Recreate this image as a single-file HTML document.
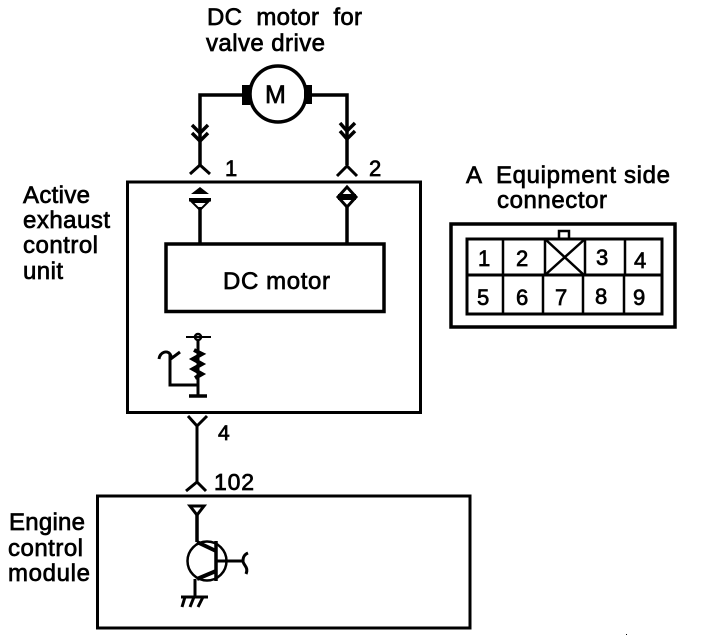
<!DOCTYPE html>
<html><head><meta charset="utf-8">
<style>
html,body{margin:0;padding:0;background:#fff}
svg{display:block}
text{font-family:"Liberation Sans",sans-serif;fill:#000;stroke:#000;stroke-width:.7}
</style></head>
<body>
<svg width="704" height="642" viewBox="0 0 704 642" xmlns="http://www.w3.org/2000/svg">
<g fill="none" stroke="#000" stroke-width="3">
<!-- boxes -->
<rect x="127.500" y="182" width="293" height="230.500"/>
<rect x="166" y="244" width="218" height="67.500" stroke-width="3.500"/>
<rect x="97.500" y="496" width="372.500" height="132" stroke-width="3"/>
<!-- motor -->
<circle cx="278" cy="94" r="28" stroke-width="3.500"/>
<path d="M200 165V95H243M312 95H347V165" stroke-width="3.500"/>
<rect x="242" y="85" width="8" height="20" fill="#000" stroke="none"/>
<rect x="304" y="85" width="8" height="19" fill="#000" stroke="none"/>
<!-- arrows on motor wires -->
<path d="M192 125L200 133L208 125M192 133L200 141L208 133M340 123L347 131L355 123M340 131L347 139L355 131" stroke-width="3.500"/>
<!-- connector Y 1 and 2 -->
<path d="M190 174L200 165L210 174M337 176L347 166L357 176" stroke-width="3"/>
<!-- terminal 1 -->
<path d="M200 207V243M347 207V243" stroke-width="3.500"/>
<path d="M200 187L209 194H191Z" fill="#000" stroke="none"/>
<rect x="189" y="198" width="22" height="3.500" fill="#000" stroke="none"/>
<path d="M192 202H208L200 210Z" stroke-width="2"/>
<path d="M347 187L356 197L347 207L338 197Z" stroke-width="3"/>
<rect x="338" y="194" width="18" height="6" fill="#000" stroke="none"/>
<!-- sensor / pull-up symbol -->
<path d="M186 337H211" stroke-width="2"/>
<circle cx="198" cy="337" r="3" stroke-width="2.500"/>
<path d="M198 340V396" stroke-width="3"/>
<path d="M194 350L202 354L193 359L202 364L193 369L202 374L195 378" stroke-width="4"/>
<path d="M189 396H207" stroke-width="3.500"/>
<path d="M198 385H170V354" stroke-width="3"/>
<path d="M159 359C160 352 167 350 170 354L172 358L180 352" stroke-width="3"/>
<!-- 4 / 102 connection -->
<path d="M188 416L197 426L207 416M197 426V482M186 491L197 482L206 491" stroke-width="3"/>
<!-- ECM terminal -->
<path d="M190 506H204L197 515Z" stroke-width="3"/>
<path d="M197 514V542" stroke-width="3.500"/>
<!-- transistor -->
<circle cx="207" cy="561" r="19.500" stroke-width="2.500"/>
<path d="M216 541V581" stroke-width="3.500"/>
<path d="M197 542L216 551M216 571L197 579" stroke-width="4"/>
<path d="M216 561H243" stroke-width="3"/>
<path d="M248 553C243 555 243 559 243 561C243 565 249 567 246 574" stroke-width="3"/>
<path d="M195 579V597" stroke-width="3"/>
<path d="M181 597H208" stroke-width="3"/>
<path d="M185 597L182 607M194 597L190 607M203 597L198 607" stroke-width="3"/>
<!-- equipment connector -->
<path d="M451 224H675V327H451Z" stroke-width="3.500"/>
<path d="M467 239H662V314H467Z" stroke-width="3"/>
<path d="M467 275H662" stroke-width="3"/>
<path d="M503 239V314M545 239V275M585 239V275M625 239V275M543 275V314M583 275V314M624 275V314" stroke-width="2.500"/>
<path d="M545 239L584 275M585 239L545 275" stroke-width="2.500"/>
<path d="M559 238V231H569V238" stroke-width="2.500"/>
</g>
<!-- labels -->
<text x="207" y="25" font-size="24" textLength="155" xml:space="preserve">DC  motor  for</text>
<text x="206" y="51" font-size="24" textLength="119">valve drive</text>
<text x="265" y="103" font-size="25">M</text>
<text x="225" y="176" font-size="22">1</text>
<text x="369" y="176" font-size="22">2</text>
<text x="466" y="183" font-size="24" textLength="204" xml:space="preserve">A  Equipment side</text>
<text x="497" y="208" font-size="24" textLength="110">connector</text>
<text x="23" y="203" font-size="24" textLength="67">Active</text>
<text x="23" y="228" font-size="24" textLength="87">exhaust</text>
<text x="23" y="253" font-size="24" textLength="75">control</text>
<text x="23" y="279" font-size="24" textLength="40">unit</text>
<text x="223" y="289" font-size="24" textLength="107">DC motor</text>
<text x="218" y="440" font-size="21">4</text>
<text x="214" y="490" font-size="23" textLength="40">102</text>
<text x="9" y="530" font-size="24" textLength="76">Engine</text>
<text x="8" y="556" font-size="24" textLength="75">control</text>
<text x="8" y="581" font-size="24" textLength="82">module</text>
<text x="478" y="266" font-size="22">1</text>
<text x="516" y="266" font-size="22">2</text>
<text x="596" y="265" font-size="22">3</text>
<text x="634" y="268" font-size="22">4</text>
<text x="477" y="305" font-size="22">5</text>
<text x="516" y="305" font-size="22">6</text>
<text x="555" y="305" font-size="22">7</text>
<text x="595" y="304" font-size="22">8</text>
<text x="633" y="305" font-size="22">9</text>
<rect x="626" y="634" width="1" height="1" fill="#000" stroke="none"/>
</svg>
</body></html>
